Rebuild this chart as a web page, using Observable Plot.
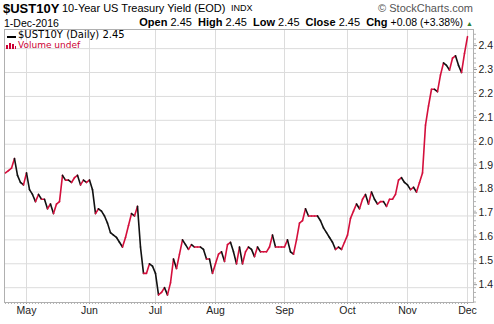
<!DOCTYPE html>
<html><head><meta charset="utf-8">
<script src="https://cdn.jsdelivr.net/npm/d3@7"></script>
<script src="https://cdn.jsdelivr.net/npm/@observablehq/plot@0.6"></script>
<style>
body{margin:0;background:#fff;font-family:"Liberation Sans",Arial,sans-serif;}
#wrap{position:relative;width:494px;height:324px;overflow:hidden;background:#fff}
#chart{position:absolute;left:0;top:0}
.t{position:absolute;white-space:nowrap;line-height:1;color:#000}
.dv{font-family:"DejaVu Sans",Verdana,sans-serif}
</style></head><body>
<div id="wrap">
<div id="chart"></div>
<div class="t" style="left:3px;top:2.3px;font-size:13px;font-weight:bold">$UST10Y</div>
<div class="t" style="left:62px;top:3px;font-size:11px">10-Year US Treasury Yield (EOD)</div>
<div class="t" style="left:231px;top:4.4px;font-size:9px">INDX</div>
<div class="t" style="right:21px;top:3px;font-size:11px;color:#555">&#169; StockCharts.com</div>
<div class="t" style="left:4px;top:17.5px;font-size:10.5px">1-Dec-2016</div>
<div class="t" style="right:31px;top:16.7px;font-size:11px"><b>Open</b> 2.45&nbsp; <b>High</b> 2.45&nbsp; <b>Low</b> 2.45&nbsp; <b>Close</b> 2.45&nbsp; <b>Chg</b> <span style="font-size:10.5px">+0.08 (+3.38%)</span></div>
<div class="t" style="left:466px;top:19.5px;font-size:7px;color:#2f7d2f">&#9650;</div>
<div style="position:absolute;left:7px;top:35.5px;width:9px;height:2px;background:#000"></div>
<div class="t dv" style="left:18px;top:29.8px;font-size:10px">$UST10Y (Daily) 2.45</div>
<div style="position:absolute;left:6px;top:45px;width:2px;height:4px;background:#cc0033"></div>
<div style="position:absolute;left:9px;top:43px;width:2px;height:6px;background:#cc0033"></div>
<div style="position:absolute;left:12px;top:44px;width:2px;height:5px;background:#cc0033"></div>
<div style="position:absolute;left:15px;top:46px;width:1px;height:3px;background:#cc0033"></div>
<div class="t dv" style="left:18px;top:41.4px;font-size:9px;color:#cc0033">Volume undef</div>
</div>
<script>
// Daily 10-year yield closes, trading day 0 = 21-Apr-2016 ... 154 = 1-Dec-2016
const yields = [
 1.88,1.89,1.90,1.94,1.87,1.84,1.83,1.88,1.81,1.79,
 1.76,1.79,1.77,1.77,1.73,1.75,1.71,1.75,1.76,1.87,
 1.85,1.85,1.84,1.86,1.87,1.83,1.85,1.84,1.85,1.81,
 1.71,1.73,1.72,1.70,1.67,1.63,1.62,1.61,1.59,1.57,
 1.61,1.66,1.71,1.70,1.74,1.57,1.46,1.46,1.50,1.49,
 1.46,1.37,1.38,1.40,1.37,1.42,1.52,1.48,1.54,1.60,
 1.58,1.56,1.58,1.57,1.57,1.57,1.56,1.52,1.52,1.46,
 1.50,1.54,1.55,1.51,1.58,1.59,1.55,1.50,1.57,1.50,
 1.55,1.57,1.56,1.53,1.57,1.55,1.55,1.55,1.57,1.62,
 1.57,1.57,1.57,1.57,1.60,1.55,1.54,1.60,1.67,1.68,
 1.73,1.70,1.70,1.70,1.70,1.68,1.65,1.63,1.61,1.59,
 1.56,1.57,1.56,1.59,1.62,1.69,1.72,1.75,1.73,1.77,
 1.79,1.75,1.80,1.77,1.75,1.76,1.76,1.74,1.77,1.77,
 1.79,1.85,1.86,1.84,1.83,1.81,1.82,1.80,1.84,1.88,
 2.08,2.16,2.23,2.23,2.22,2.29,2.34,2.33,2.31,2.36,
 2.37,2.33,2.30,2.38,2.45
];
const monthLabels = ["May","Jun","Jul","Aug","Sep","Oct","Nov","Dec"];
const monthStartIndex = [7,28,50,70,93,114,134,154];
const yTicks = [1.4,1.5,1.6,1.7,1.8,1.9,2.0,2.1,2.2,2.3,2.4];

const segs = d3.pairs(yields.map((v,i)=>({i,v}))).map(([a,b])=>({
  x1:a.i, y1:a.v, x2:b.i, y2:b.v, dir: b.v >= a.v ? "up" : "down"
}));

const chart = Plot.plot({
  width:494, height:324,
  marginTop:29, marginRight:21, marginBottom:22, marginLeft:4,
  x:{domain:[-0.33,156], axis:null},
  y:{domain:[1.338,2.48], axis:null},
  color:{domain:["up","down"], range:["#d40f3c","#111111"]},
  style:{fontFamily:"Liberation Sans, Arial, sans-serif", background:"transparent", color:"#222"},
  marks:[
    Plot.ruleY(yTicks,{stroke:"#dcdcdc"}),
    Plot.ruleX(monthStartIndex,{stroke:"#dcdcdc"}),
    Plot.axisX(d3.range(yields.length),{tickSize:2, tickFormat:()=>"", stroke:"#b5b5b5"}),
    Plot.axisX(monthStartIndex,{tickSize:2, tickPadding:2, fontSize:10.5, stroke:"#999",
      tickFormat:d=>monthLabels[monthStartIndex.indexOf(d)]}),
    Plot.axisY(d3.range(1.34,2.48,0.02),{anchor:"right", tickSize:2, tickFormat:()=>"", stroke:"#b5b5b5"}),
    Plot.axisY(yTicks,{anchor:"right", tickSize:3, tickPadding:2, dy:-3, fontSize:10.5, stroke:"#999",
      tickFormat:d=>d.toFixed(1)}),
    Plot.frame({stroke:"#b0b0b0"}),
    Plot.link(segs,{x1:"x1",y1:"y1",x2:"x2",y2:"y2",stroke:"dir",strokeWidth:1.6,strokeLinecap:"round"})
  ]
});
document.getElementById("chart").appendChild(chart);
</script>
</body></html>
